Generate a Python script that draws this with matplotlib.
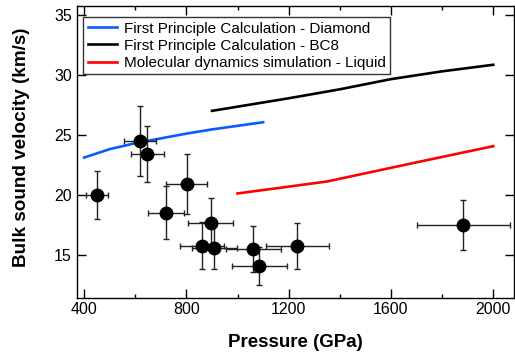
import matplotlib
matplotlib.use("Agg")
import matplotlib.pyplot as plt
from matplotlib.ticker import MultipleLocator

plt.rcParams['font.family'] = ['Liberation Sans', 'DejaVu Sans']

# Experimental data
pressure = [450, 619, 647, 801, 721, 895, 860, 909, 1062, 1085, 1234, 1883]
pressure_err = [44, 62, 64, 81, 71, 89, 86, 88, 107, 108, 124, 181]
velocity = [19.95, 24.47, 23.42, 20.92, 18.5, 17.6, 15.75, 15.58, 15.47, 14.06, 15.72, 17.47]
velocity_err = [2.0, 2.95, 2.35, 2.5, 2.2, 2.1, 2.0, 1.8, 1.9, 1.6, 1.9, 2.08]

# Diamond (first principle)
dia_p = [400, 500, 600, 700, 800, 900, 1000, 1100]
dia_v = [23.1, 23.8, 24.3, 24.7, 25.1, 25.45, 25.75, 26.05]

# BC8 (first principle)
bc8_p = [900, 1200, 1400, 1600, 1800, 2000]
bc8_v = [27.0, 28.05, 28.8, 29.65, 30.3, 30.85]

# Liquid (MD)
liq_p = [1000, 1350, 1700, 2000]
liq_v = [20.1, 21.1, 22.7, 24.05]

fig = plt.figure(figsize=(5.15, 3.59), dpi=100)
ax = fig.add_axes([0.149, 0.171, 0.849, 0.812])

ax.plot(dia_p, dia_v, color='#0a5cff', lw=1.9, label='First Principle Calculation - Diamond')
ax.plot(bc8_p, bc8_v, color='black', lw=1.9, label='First Principle Calculation - BC8')
ax.plot(liq_p, liq_v, color='#ff0000', lw=1.9, label='Molecular dynamics simulation - Liquid')

ax.errorbar(pressure, velocity, xerr=pressure_err, yerr=velocity_err, fmt='o',
            color='black', ecolor='#222222', elinewidth=1.0, capsize=2.5, capthick=1.0,
            markersize=9, zorder=3)

ax.set_xlim(371, 2081)
ax.set_ylim(11.4, 35.75)
ax.xaxis.set_major_locator(MultipleLocator(400))
ax.xaxis.set_minor_locator(MultipleLocator(200))
ax.yaxis.set_major_locator(MultipleLocator(5))
ax.tick_params(which='both', direction='in', top=True, right=True, labelsize=11.5, width=1)
ax.tick_params(which='major', length=6.5)
ax.tick_params(which='minor', length=3.2)
for s in ax.spines.values():
    s.set_linewidth(1)

ax.set_xlabel('Pressure (GPa)', fontsize=13.5, fontweight='bold')
ax.set_ylabel('Bulk sound velocity (km/s)', fontsize=13.6, fontweight='bold')
ax.xaxis.set_label_coords(0.5, -0.125)
ax.yaxis.set_label_coords(-0.106, 0.515)

leg = ax.legend(loc='upper left', bbox_to_anchor=(0.0144, 0.962), borderaxespad=0,
                fontsize=11, frameon=True, fancybox=False, edgecolor='black',
                handlelength=1.9, borderpad=0.3, labelspacing=0.2, handletextpad=0.45)
leg.get_frame().set_linewidth(1)

fig.savefig('out.png', dpi=100)
